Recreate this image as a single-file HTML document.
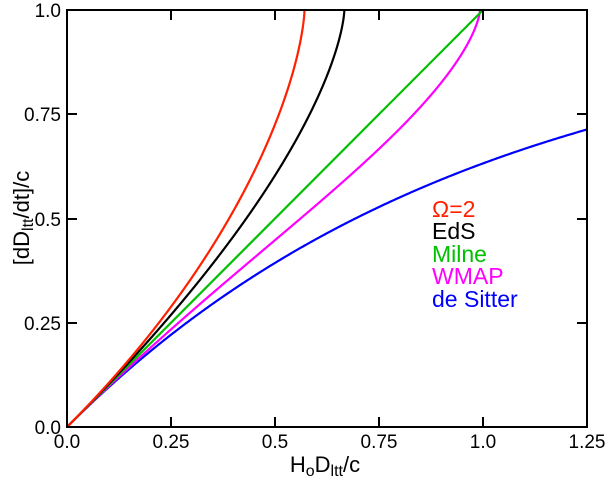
<!DOCTYPE html>
<html><head><style>body{margin:0;background:#fff}svg{display:block}text{font-family:"Liberation Sans",Arial,sans-serif}</style></head><body>
<svg id="s" width="607" height="481" viewBox="0 0 607 481" xmlns="http://www.w3.org/2000/svg">
<g font-size="19" fill="#000">
<text x="61" y="434" text-anchor="end">0.0</text>
<text x="61" y="330" text-anchor="end">0.25</text>
<text x="61" y="226" text-anchor="end">0.5</text>
<text x="61" y="121" text-anchor="end">0.75</text>
<text x="61" y="17" text-anchor="end">1.0</text>
<text x="67" y="448" text-anchor="middle">0.0</text>
<text x="171" y="448" text-anchor="middle">0.25</text>
<text x="275" y="448" text-anchor="middle">0.5</text>
<text x="379" y="448" text-anchor="middle">0.75</text>
<text x="483" y="448" text-anchor="middle">1.0</text>
<text x="587" y="448" text-anchor="middle">1.25</text>
</g>
<text x="325" y="472" font-size="22" text-anchor="middle">H<tspan font-size="16" dy="4">o</tspan><tspan dy="-4">D</tspan><tspan font-size="16" dy="4">ltt</tspan><tspan dy="-4">/c</tspan></text>
<text transform="translate(29,218) rotate(-90)" font-size="22" text-anchor="middle">[dD<tspan font-size="16" dy="4">ltt</tspan><tspan dy="-4">/dt]/c</tspan></text>
<g font-size="23">
<text x="432" y="217" fill="#ff2000">Ω=2</text>
<text x="432" y="239" fill="#000">EdS</text>
<text x="432" y="262" fill="#00c000">Milne</text>
<text x="432" y="284" fill="#ff00ff">WMAP</text>
<text x="432" y="307" fill="#0000ff">de Sitter</text>
</g>
<g id="curves" fill="none" stroke-width="2.2"></g>
<rect x="67" y="10" width="520" height="417" fill="none" stroke="#000" stroke-width="2"/>
<g stroke="#000" stroke-width="2">
<path d="M171 427v-10M275 427v-10M379 427v-10M483 427v-10M171 10v10M275 10v10M379 10v10M483 10v10M67 323h10M67 219h10M67 114h10M587 323h-10M587 219h-10M587 114h-10"/>
</g>
</svg>
<script>
var X=function(x){return 67+416*x},Y=function(y){return 427-417*y};
function path(pts,c){var d=pts.map(function(p,i){return(i?'L':'M')+X(p[0]).toFixed(2)+' '+Y(p[1]).toFixed(2)}).join('');
var e=document.createElementNS('http://www.w3.org/2000/svg','path');e.setAttribute('d',d);e.setAttribute('stroke',c);document.getElementById('curves').appendChild(e);}
var N=400,p,i;
p=[];for(i=0;i<=N;i++){var x=1.25*i/N;p.push([x,1-Math.exp(-x)]);}path(p,'#0000ff');
var Om=0.27,OL=0.73;function tt(a){return 2/(3*Math.sqrt(OL))*Math.asinh(Math.sqrt(OL/Om)*Math.pow(a,1.5));}
var t0=tt(1);p=[];for(i=0;i<=N;i++){var a=1-i/N;p.push([t0-tt(a),1-a]);}path(p,'#ff00ff');
path([[0,0],[1,1]],'#00c000');
p=[];for(i=0;i<=N;i++){var a=1-i/N;p.push([2/3*(1-Math.pow(a,1.5)),1-a]);}path(p,'#000');
p=[];var T0=Math.PI/2-1;for(i=0;i<=N;i++){var th=Math.PI/2*(1-i/N);p.push([T0-(th-Math.sin(th)),Math.cos(th)]);}path(p,'#ff2000');
</script>
</body></html>
